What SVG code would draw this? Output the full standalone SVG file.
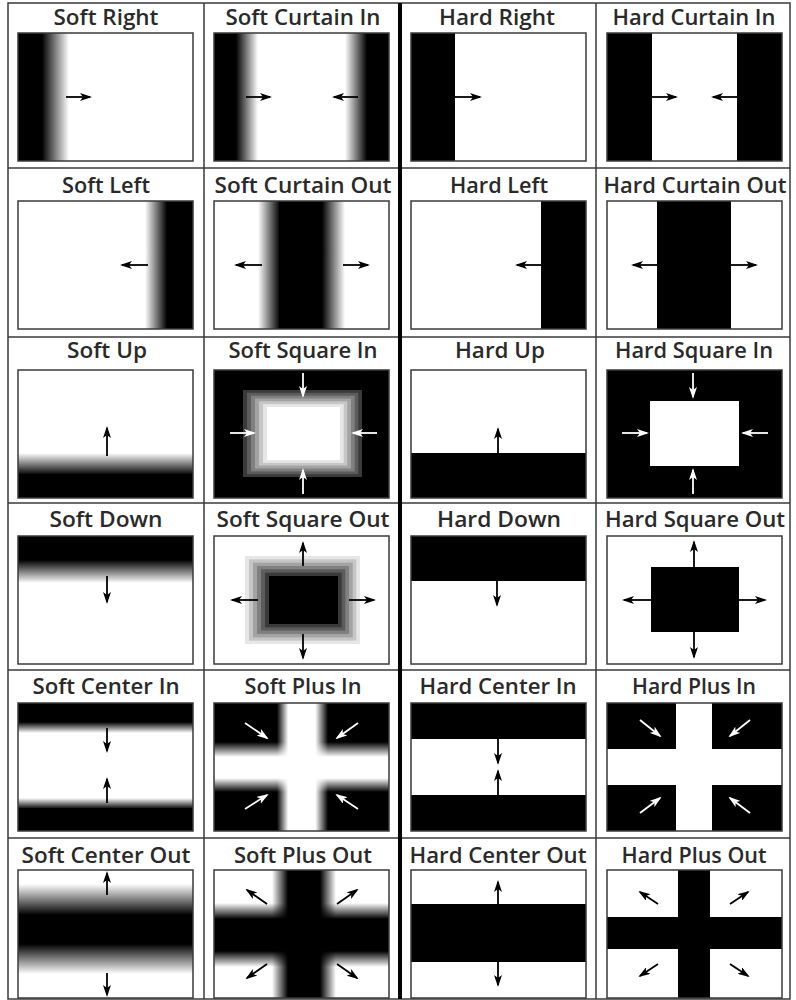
<svg xmlns="http://www.w3.org/2000/svg" width="796" height="1000" viewBox="0 0 796 1000">
<style>
.t{font-family:"Open Sans","Liberation Sans",sans-serif;font-weight:600;font-size:21px;fill:#2a2a2a;text-anchor:middle}
.fr{fill:none;stroke:#3a3a3a;stroke-width:1.5}
.bg{fill:#fff}
.k{fill:#000}
.w{fill:#fff}
.a{stroke:#000;stroke-width:1.8;fill:none;marker-end:url(#ah)}
.aw{stroke:#fff;stroke-width:1.8;fill:none;marker-end:url(#ahw)}
.grid{stroke:#3a3a3a;stroke-width:1.5;fill:none}
</style>
<defs>
<marker id="ah" viewBox="0 0 12 8" refX="10" refY="4" markerWidth="12" markerHeight="8" markerUnits="userSpaceOnUse" orient="auto"><path d="M0,0 L12,4 L0,8 L3,4 z" fill="#000"/></marker>
<marker id="ahw" viewBox="0 0 12 8" refX="10" refY="4" markerWidth="12" markerHeight="8" markerUnits="userSpaceOnUse" orient="auto"><path d="M0,0 L12,4 L0,8 L3,4 z" fill="#fff"/></marker>
<linearGradient id="gh" x1="0" y1="0" x2="1" y2="0"><stop offset="0" stop-color="#000"/><stop offset="1" stop-color="#fff"/></linearGradient>
<linearGradient id="ghr" x1="0" y1="0" x2="1" y2="0"><stop offset="0" stop-color="#fff"/><stop offset="1" stop-color="#000"/></linearGradient>
<linearGradient id="gv" x1="0" y1="0" x2="0" y2="1"><stop offset="0" stop-color="#fff"/><stop offset="1" stop-color="#000"/></linearGradient>
<linearGradient id="gvr" x1="0" y1="0" x2="0" y2="1"><stop offset="0" stop-color="#000"/><stop offset="1" stop-color="#fff"/></linearGradient>
<linearGradient id="pvw" x1="0" y1="0" x2="1" y2="0"><stop offset="0" stop-color="#fff" stop-opacity="0"/><stop offset="0.22" stop-color="#fff"/><stop offset="0.75" stop-color="#fff"/><stop offset="1" stop-color="#fff" stop-opacity="0"/></linearGradient>
<linearGradient id="phw" x1="0" y1="0" x2="0" y2="1"><stop offset="0" stop-color="#fff" stop-opacity="0"/><stop offset="0.3" stop-color="#fff"/><stop offset="0.72" stop-color="#fff"/><stop offset="1" stop-color="#fff" stop-opacity="0"/></linearGradient>
<linearGradient id="pvb" x1="0" y1="0" x2="1" y2="0"><stop offset="0" stop-color="#000" stop-opacity="0"/><stop offset="0.25" stop-color="#000"/><stop offset="0.75" stop-color="#000"/><stop offset="1" stop-color="#000" stop-opacity="0"/></linearGradient>
<linearGradient id="phb" x1="0" y1="0" x2="0" y2="1"><stop offset="0" stop-color="#000" stop-opacity="0"/><stop offset="0.25" stop-color="#000"/><stop offset="0.75" stop-color="#000"/><stop offset="1" stop-color="#000" stop-opacity="0"/></linearGradient>
</defs>
<rect x="0" y="0" width="796" height="1000" fill="#fff"/>

<g id="grid">
<rect class="grid" x="8" y="3" width="782" height="996"/>
<line class="grid" x1="204" y1="3" x2="204" y2="999"/>
<line class="grid" x1="596" y1="3" x2="596" y2="999"/>
<line class="grid" x1="8" y1="168" x2="790" y2="168"/>
<line class="grid" x1="8" y1="337" x2="790" y2="337"/>
<line class="grid" x1="8" y1="503" x2="790" y2="503"/>
<line class="grid" x1="8" y1="670" x2="790" y2="670"/>
<line class="grid" x1="8" y1="838" x2="790" y2="838"/>
<line x1="400" y1="3" x2="400" y2="999" stroke="#000" stroke-width="4"/>
</g>

<!-- Row 1 -->
<g id="soft-right">
<text class="t" x="106" y="25" textLength="105" lengthAdjust="spacingAndGlyphs">Soft Right</text>
<g transform="translate(18,33)">
<rect class="bg" width="175" height="128"/>
<rect class="k" width="24" height="128"/>
<rect x="24" width="27" height="128" fill="url(#gh)"/>
<line class="a" x1="48" y1="64" x2="72" y2="64"/>
<rect class="fr" width="175" height="128"/>
</g></g>

<g id="soft-curtain-in">
<text class="t" x="303" y="25" textLength="155" lengthAdjust="spacingAndGlyphs">Soft Curtain In</text>
<g transform="translate(214,33)">
<rect class="bg" width="175" height="128"/>
<rect class="k" width="22" height="128"/>
<rect x="22" width="22" height="128" fill="url(#gh)"/>
<rect x="131" width="22" height="128" fill="url(#ghr)"/>
<rect class="k" x="153" width="22" height="128"/>
<line class="a" x1="32" y1="64" x2="56" y2="64"/>
<line class="a" x1="144" y1="64" x2="120" y2="64"/>
<rect class="fr" width="175" height="128"/>
</g></g>

<g id="hard-right">
<text class="t" x="497" y="25" textLength="116" lengthAdjust="spacingAndGlyphs">Hard Right</text>
<g transform="translate(411,33)">
<rect class="bg" width="175" height="128"/>
<rect class="k" width="44" height="128"/>
<line class="a" x1="44" y1="64" x2="69" y2="64"/>
<rect class="fr" width="175" height="128"/>
</g></g>

<g id="hard-curtain-in">
<text class="t" x="694" y="25" textLength="163" lengthAdjust="spacingAndGlyphs">Hard Curtain In</text>
<g transform="translate(607,33)">
<rect class="bg" width="175" height="128"/>
<rect class="k" width="45" height="128"/>
<rect class="k" x="130" width="45" height="128"/>
<line class="a" x1="45" y1="64" x2="69" y2="64"/>
<line class="a" x1="130" y1="64" x2="106" y2="64"/>
<rect class="fr" width="175" height="128"/>
</g></g>

<!-- Row 2 -->
<g id="soft-left">
<text class="t" x="106" y="193" textLength="88" lengthAdjust="spacingAndGlyphs">Soft Left</text>
<g transform="translate(18,201)">
<rect class="bg" width="175" height="128"/>
<rect x="127" width="22" height="128" fill="url(#ghr)"/>
<rect class="k" x="149" width="26" height="128"/>
<line class="a" x1="130" y1="64" x2="104" y2="64"/>
<rect class="fr" width="175" height="128"/>
</g></g>

<g id="soft-curtain-out">
<text class="t" x="303" y="193" textLength="177" lengthAdjust="spacingAndGlyphs">Soft Curtain Out</text>
<g transform="translate(214,201)">
<rect class="bg" width="175" height="128"/>
<rect x="44" width="22" height="128" fill="url(#ghr)"/>
<rect class="k" x="65" width="44" height="128"/>
<rect x="108" width="23" height="128" fill="url(#gh)"/>
<line class="a" x1="48" y1="64" x2="22" y2="64"/>
<line class="a" x1="129" y1="64" x2="154" y2="64"/>
<rect class="fr" width="175" height="128"/>
</g></g>

<g id="hard-left">
<text class="t" x="499" y="193" textLength="98" lengthAdjust="spacingAndGlyphs">Hard Left</text>
<g transform="translate(411,201)">
<rect class="bg" width="175" height="128"/>
<rect class="k" x="130" width="45" height="128"/>
<line class="a" x1="130" y1="64" x2="106" y2="64"/>
<rect class="fr" width="175" height="128"/>
</g></g>

<g id="hard-curtain-out">
<text class="t" x="695" y="193" textLength="183" lengthAdjust="spacingAndGlyphs">Hard Curtain Out</text>
<g transform="translate(607,201)">
<rect class="bg" width="175" height="128"/>
<rect class="k" x="50" width="74" height="128"/>
<line class="a" x1="50" y1="64" x2="26" y2="64"/>
<line class="a" x1="124" y1="64" x2="149" y2="64"/>
<rect class="fr" width="175" height="128"/>
</g></g>

<!-- Row 3 -->
<g id="soft-up">
<text class="t" x="107" y="358" textLength="80" lengthAdjust="spacingAndGlyphs">Soft Up</text>
<g transform="translate(18,370)">
<rect class="bg" width="175" height="128"/>
<rect y="83" width="175" height="22" fill="url(#gv)"/>
<rect class="k" y="104" width="175" height="24"/>
<line class="a" x1="89" y1="86" x2="89" y2="58"/>
<rect class="fr" width="175" height="128"/>
</g></g>

<g id="soft-square-in">
<text class="t" x="303" y="358" textLength="149" lengthAdjust="spacingAndGlyphs">Soft Square In</text>
<g transform="translate(214,370)">
<rect class="k" width="175" height="128"/>
<rect x="29" y="20" width="119" height="87" fill="#3a3a3a"/>
<rect x="33" y="22.8" width="111.3" height="81.4" fill="#5c5c5c"/>
<rect x="37" y="25.7" width="103.7" height="75.7" fill="#808080"/>
<rect x="41" y="28.5" width="96" height="70" fill="#a3a3a3"/>
<rect x="45" y="31.3" width="88.3" height="64.3" fill="#c6c6c6"/>
<rect x="49" y="34.2" width="80.7" height="58.7" fill="#e6e6e6"/>
<rect x="53" y="37" width="73" height="53" fill="#fff"/>
<line class="aw" x1="89" y1="3" x2="89" y2="26"/>
<line class="aw" x1="89" y1="124" x2="89" y2="100"/>
<line class="aw" x1="16" y1="63" x2="40" y2="63"/>
<line class="aw" x1="163" y1="63" x2="139" y2="63"/>
<rect class="fr" width="175" height="128"/>
</g></g>

<g id="hard-up">
<text class="t" x="500" y="358" textLength="90" lengthAdjust="spacingAndGlyphs">Hard Up</text>
<g transform="translate(411,370)">
<rect class="bg" width="175" height="128"/>
<rect class="k" y="83" width="175" height="45"/>
<line class="a" x1="87" y1="83" x2="87" y2="59"/>
<rect class="fr" width="175" height="128"/>
</g></g>

<g id="hard-square-in">
<text class="t" x="694" y="358" textLength="158" lengthAdjust="spacingAndGlyphs">Hard Square In</text>
<g transform="translate(607,370)">
<rect class="k" width="175" height="128"/>
<rect class="w" x="43" y="31" width="89" height="65"/>
<line class="aw" x1="86" y1="3" x2="86" y2="27"/>
<line class="aw" x1="86" y1="124" x2="86" y2="100"/>
<line class="aw" x1="15" y1="63" x2="40" y2="63"/>
<line class="aw" x1="161" y1="63" x2="136" y2="63"/>
<rect class="fr" width="175" height="128"/>
</g></g>

<!-- Row 4 -->
<g id="soft-down">
<text class="t" x="106" y="527" textLength="113" lengthAdjust="spacingAndGlyphs">Soft Down</text>
<g transform="translate(18,536)">
<rect class="bg" width="175" height="128"/>
<rect class="k" width="175" height="25"/>
<rect y="24" width="175" height="23" fill="url(#gvr)"/>
<line class="a" x1="89" y1="40" x2="89" y2="66"/>
<rect class="fr" width="175" height="128"/>
</g></g>

<g id="soft-square-out">
<text class="t" x="303" y="527" textLength="173" lengthAdjust="spacingAndGlyphs">Soft Square Out</text>
<g transform="translate(214,536)">
<rect class="bg" width="175" height="128"/>
<rect x="31" y="20" width="115" height="88" fill="#e6e6e6"/>
<rect x="35" y="23.3" width="107.3" height="81.3" fill="#c6c6c6"/>
<rect x="39" y="26.7" width="99.7" height="74.7" fill="#a3a3a3"/>
<rect x="43" y="30" width="92" height="68" fill="#808080"/>
<rect x="47" y="33.3" width="84.3" height="61.3" fill="#5c5c5c"/>
<rect x="51" y="36.7" width="76.7" height="54.7" fill="#3a3a3a"/>
<rect class="k" x="55" y="40" width="69" height="48"/>
<line class="a" x1="89" y1="30" x2="89" y2="7"/>
<line class="a" x1="89" y1="98" x2="89" y2="122"/>
<line class="a" x1="44" y1="64" x2="18" y2="64"/>
<line class="a" x1="135" y1="64" x2="160" y2="64"/>
<rect class="fr" width="175" height="128"/>
</g></g>

<g id="hard-down">
<text class="t" x="499" y="527" textLength="124" lengthAdjust="spacingAndGlyphs">Hard Down</text>
<g transform="translate(411,536)">
<rect class="bg" width="175" height="128"/>
<rect class="k" width="175" height="45"/>
<line class="a" x1="86" y1="45" x2="86" y2="69"/>
<rect class="fr" width="175" height="128"/>
</g></g>

<g id="hard-square-out">
<text class="t" x="695" y="527" textLength="180" lengthAdjust="spacingAndGlyphs">Hard Square Out</text>
<g transform="translate(607,536)">
<rect class="bg" width="175" height="128"/>
<rect class="k" x="44" y="31" width="88" height="65"/>
<line class="a" x1="87" y1="31" x2="87" y2="6"/>
<line class="a" x1="87" y1="96" x2="87" y2="121"/>
<line class="a" x1="44" y1="64" x2="17" y2="64"/>
<line class="a" x1="132" y1="64" x2="158" y2="64"/>
<rect class="fr" width="175" height="128"/>
</g></g>

<!-- Row 5 -->
<g id="soft-center-in">
<text class="t" x="106" y="694" textLength="147" lengthAdjust="spacingAndGlyphs">Soft Center In</text>
<g transform="translate(18,703)">
<rect class="bg" width="175" height="128"/>
<rect class="k" width="175" height="20"/>
<rect y="19" width="175" height="11" fill="url(#gvr)"/>
<rect y="95" width="175" height="11" fill="url(#gv)"/>
<rect class="k" y="105" width="175" height="23"/>
<line class="a" x1="89" y1="25" x2="89" y2="48"/>
<line class="a" x1="89" y1="100" x2="89" y2="76"/>
<rect class="fr" width="175" height="128"/>
</g></g>

<g id="soft-plus-in">
<text class="t" x="303" y="694" textLength="117" lengthAdjust="spacingAndGlyphs">Soft Plus In</text>
<g transform="translate(214,703)">
<rect class="k" width="175" height="128"/>
<rect x="63" width="51" height="128" fill="url(#pvw)"/>
<rect y="39" width="175" height="50" fill="url(#phw)"/>
<line class="aw" x1="31" y1="20" x2="53" y2="35"/>
<line class="aw" x1="144" y1="20" x2="123" y2="35"/>
<line class="aw" x1="31" y1="106" x2="53" y2="92"/>
<line class="aw" x1="144" y1="106" x2="123" y2="92"/>
<rect class="fr" width="175" height="128"/>
</g></g>

<g id="hard-center-in">
<text class="t" x="498" y="694" textLength="157" lengthAdjust="spacingAndGlyphs">Hard Center In</text>
<g transform="translate(411,703)">
<rect class="bg" width="175" height="128"/>
<rect class="k" width="175" height="36"/>
<rect class="k" y="92" width="175" height="36"/>
<line class="a" x1="87" y1="36" x2="87" y2="60"/>
<line class="a" x1="87" y1="92" x2="87" y2="68"/>
<rect class="fr" width="175" height="128"/>
</g></g>

<g id="hard-plus-in">
<text class="t" x="694" y="694" textLength="124" lengthAdjust="spacingAndGlyphs">Hard Plus In</text>
<g transform="translate(607,703)">
<rect class="k" width="175" height="128"/>
<rect class="w" x="69" width="36" height="128"/>
<rect class="w" y="46" width="175" height="36"/>
<line class="aw" x1="33" y1="17" x2="53" y2="33"/>
<line class="aw" x1="143" y1="17" x2="123" y2="33"/>
<line class="aw" x1="33" y1="110" x2="53" y2="95"/>
<line class="aw" x1="143" y1="110" x2="123" y2="95"/>
<rect class="fr" width="175" height="128"/>
</g></g>

<!-- Row 6 -->
<g id="soft-center-out">
<text class="t" x="106" y="863" textLength="169" lengthAdjust="spacingAndGlyphs">Soft Center Out</text>
<g transform="translate(18,870)">
<rect class="bg" width="175" height="128"/>
<rect y="14" width="175" height="31" fill="url(#gv)"/>
<rect class="k" y="44" width="175" height="31"/>
<rect y="74" width="175" height="30" fill="url(#gvr)"/>
<line class="a" x1="89" y1="25" x2="89" y2="3"/>
<line class="a" x1="89" y1="103" x2="89" y2="125"/>
<rect class="fr" width="175" height="128"/>
</g></g>

<g id="soft-plus-out">
<text class="t" x="303" y="863" textLength="138" lengthAdjust="spacingAndGlyphs">Soft Plus Out</text>
<g transform="translate(214,870)">
<rect class="bg" width="175" height="128"/>
<rect x="58" width="64" height="128" fill="url(#pvb)"/>
<rect y="33" width="175" height="64" fill="url(#phb)"/>
<line class="a" x1="53" y1="34" x2="33" y2="20"/>
<line class="a" x1="123" y1="34" x2="143" y2="20"/>
<line class="a" x1="53" y1="94" x2="33" y2="108"/>
<line class="a" x1="123" y1="94" x2="143" y2="108"/>
<rect class="fr" width="175" height="128"/>
</g></g>

<g id="hard-center-out">
<text class="t" x="498" y="863" textLength="177" lengthAdjust="spacingAndGlyphs">Hard Center Out</text>
<g transform="translate(411,870)">
<rect class="bg" width="175" height="128"/>
<rect class="k" y="34" width="175" height="58"/>
<line class="a" x1="87" y1="34" x2="87" y2="12"/>
<line class="a" x1="87" y1="92" x2="87" y2="115"/>
<rect class="fr" width="175" height="128"/>
</g></g>

<g id="hard-plus-out">
<text class="t" x="694" y="863" textLength="145" lengthAdjust="spacingAndGlyphs">Hard Plus Out</text>
<g transform="translate(607,870)">
<rect class="bg" width="175" height="128"/>
<rect class="k" x="71" width="32" height="128"/>
<rect class="k" y="47" width="175" height="32"/>
<line class="a" x1="51" y1="34" x2="33" y2="22"/>
<line class="a" x1="123" y1="34" x2="141" y2="22"/>
<line class="a" x1="51" y1="94" x2="33" y2="106"/>
<line class="a" x1="123" y1="94" x2="141" y2="106"/>
<rect class="fr" width="175" height="128"/>
</g></g>
</svg>
